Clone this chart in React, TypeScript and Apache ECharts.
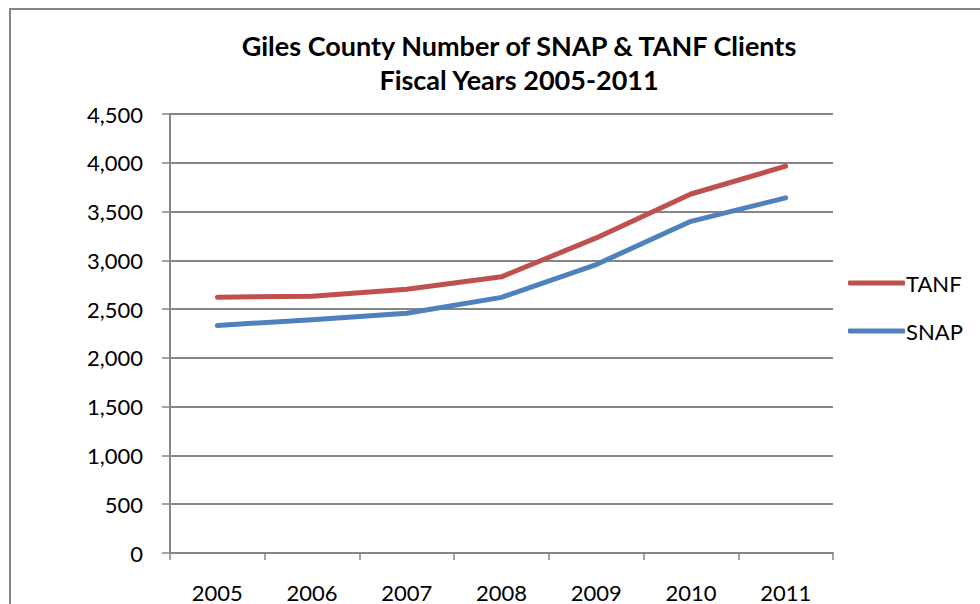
import React, { useEffect, useRef } from "react";
import * as echarts from "echarts";

const years = ["2005", "2006", "2007", "2008", "2009", "2010", "2011"];
const tanf = [2622, 2632, 2704, 2831, 3230, 3680, 3965];
const snap = [2332, 2392, 2458, 2620, 2957, 3400, 3640];
const titleLines = ["Giles County Number of SNAP & TANF Clients", "Fiscal Years 2005-2011"];

const FONT = "Lato, 'Noto Sans', sans-serif";

export default function App() {
  const ref = useRef<HTMLDivElement>(null);
  useEffect(() => {
    if (!ref.current) return;
    const chart = echarts.init(ref.current, null, { renderer: "svg" });
    chart.setOption({
      animation: false,
      backgroundColor: "#ffffff",
      textStyle: { fontFamily: FONT },
      title: {
        text: titleLines.join("\n"),
        left: 514,
        top: 23,
        textAlign: "center",
        textStyle: { fontFamily: FONT, fontWeight: "bold", fontSize: 27, lineHeight: 34, color: "#000" },
      },
      graphic: [
        {
          type: "rect",
          shape: { x: 10, y: 9, width: 1000, height: 700 },
          style: { fill: "none", stroke: "#868686", lineWidth: 2 },
          silent: true,
        },
      ],
      legend: {
        orient: "vertical",
        left: 843,
        top: 267,
        itemWidth: 57,
        itemHeight: 5,
        itemGap: 26,
        icon: "roundRect",
        textStyle: { fontFamily: FONT, fontSize: 22, color: "#000", lineHeight: 22, padding: [0, 0, 0, -4] },
        data: ["TANF", "SNAP"],
      },
      grid: { left: 170, right: 147, top: 114, bottom: 51, containLabel: false },
      xAxis: {
        type: "category",
        data: years,
        boundaryGap: true,
        axisLine: { lineStyle: { color: "#868686", width: 2 } },
        axisTick: { show: true, length: 7, lineStyle: { color: "#868686", width: 1.5 } },
        axisLabel: { fontFamily: FONT, fontSize: 22, color: "#000", margin: 28 },
      },
      yAxis: {
        type: "value",
        min: 0,
        max: 4500,
        interval: 500,
        axisLine: { show: true, lineStyle: { color: "#868686", width: 2 } },
        axisTick: { show: true, length: 8, lineStyle: { color: "#868686", width: 1.5 } },
        splitLine: { lineStyle: { color: "#868686", width: 2 } },
        axisLabel: {
          fontFamily: FONT,
          fontSize: 22,
          color: "#000",
          margin: 27,
          formatter: (v: number) => v.toLocaleString("en-US"),
        },
      },
      series: [
        {
          name: "TANF",
          type: "line",
          data: tanf,
          showSymbol: false,
          symbol: "none",
          color: "#C0504D",
          lineStyle: { width: 5, cap: "round", join: "round" },
        },
        {
          name: "SNAP",
          type: "line",
          data: snap,
          showSymbol: false,
          symbol: "none",
          color: "#4F81BD",
          lineStyle: { width: 5, cap: "round", join: "round" },
        },
      ],
    });
    return () => chart.dispose();
  }, []);
  return (
    <div
      ref={ref}
      style={{ position: "fixed", left: 0, top: 0, width: 980, height: 604, background: "#fff" }}
    />
  );
}
